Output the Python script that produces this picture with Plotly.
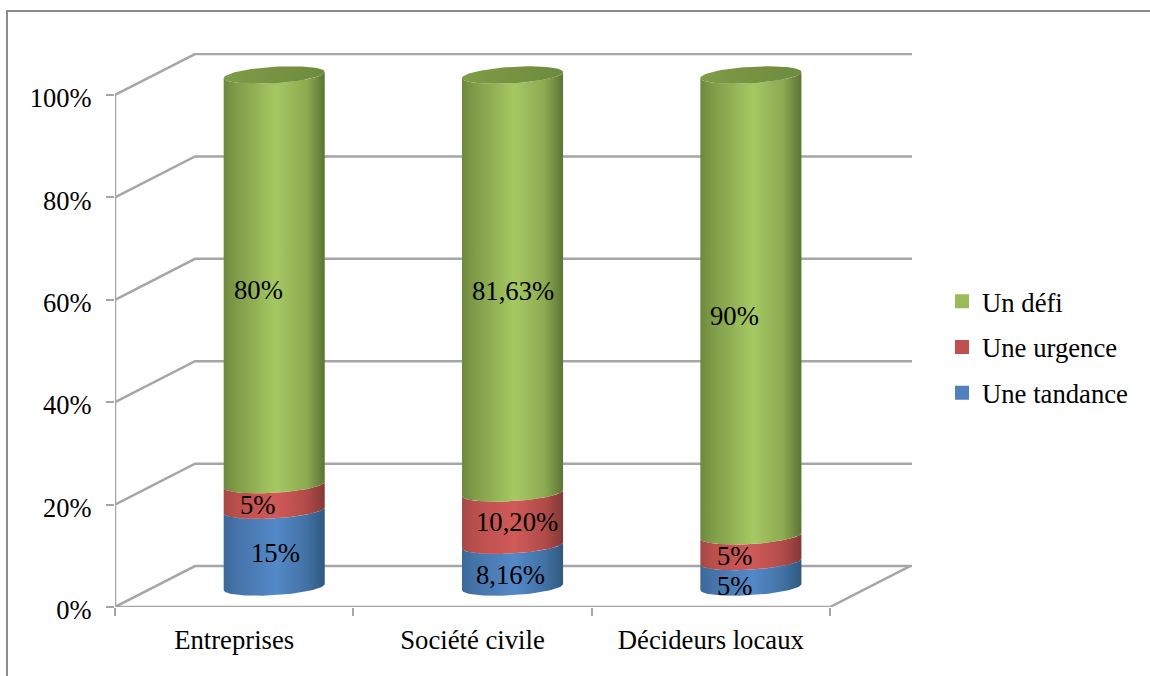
import numpy as np
import plotly.graph_objects as go

# Survey shares per respondent group (%)
categories = ["Entreprises", "Société civile", "Décideurs locaux"]
une_tandance = [15, 8.16, 5]
une_urgence = [5, 10.20, 5]
un_defi = [80, 81.63, 90]
value_labels = {
    "tandance": ["15%", "8,16%", "5%"],
    "urgence": ["5%", "10,20%", "5%"],
    "defi": ["80%", "81,63%", "90%"],
}
tick_values = [0, 20, 40, 60, 80, 100]
tick_labels = ["0%", "20%", "40%", "60%", "80%", "100%"]

# Pseudo-3D box and cylinder proportions, in axis units
DEPTH_X, DEPTH_Y = 0.3357, 8.0
X_END = 2.844
Y_END = 108.2
RADIUS_X = 0.212
RADIUS_Y = 1.6
TILT = 0.59
BAR_DX, BAR_DY = 0.168, 3.9

FONT = "Liberation Serif"
TEXT_SIZE = 26.7
GRID = "#a6a6a6"

GREEN = [[0, "#6d883e"], [0.12, "#7f9c48"], [0.52, "#a6c863"], [0.82, "#8caa50"], [1, "#5c7434"]]
RED = [[0, "#a44846"], [0.12, "#b94f4c"], [0.52, "#d05a58"], [0.82, "#b04b49"], [1, "#843836"]]
BLUE = [[0, "#3a6899"], [0.12, "#4573a8"], [0.52, "#5489c8"], [0.82, "#4271a4"], [1, "#2e5981"]]
CAP = [[0, "#7f9c47"], [1, "#6e8a3d"]]


def ellipse(cx, level, t):
    """Points on the tilted ellipse at a stack level; the left side sits lower."""
    return cx + RADIUS_X * np.cos(t), level + RADIUS_Y * np.sin(t) + TILT * np.cos(t)


fig = go.Figure()

# Walls: one bent gridline per tick
for v in tick_values:
    fig.add_trace(go.Scatter(
        x=[-0.5, -0.5 + DEPTH_X, X_END], y=[v, v + DEPTH_Y, v + DEPTH_Y],
        mode="lines", line=dict(color=GRID, width=2.5), showlegend=False,
        hoverinfo="skip", cliponaxis=False,
    ))

# Value axis and front floor edge
fig.add_trace(go.Scatter(
    x=[-0.5, -0.5], y=[0, 100], mode="lines",
    line=dict(color=GRID, width=2.5), showlegend=False, hoverinfo="skip", cliponaxis=False,
))
fig.add_trace(go.Scatter(
    x=[-0.5, 2.5, 2.5 + DEPTH_X], y=[0, 0, DEPTH_Y], mode="lines",
    line=dict(color=GRID, width=2.5), showlegend=False, hoverinfo="skip", cliponaxis=False,
))

# Stacked cylinders
series = [
    ("Une tandance", une_tandance, BLUE),
    ("Une urgence", une_urgence, RED),
    ("Un défi", un_defi, GREEN),
]
lower_half = np.linspace(np.pi, 2 * np.pi, 50)
full_turn = np.linspace(0, 2 * np.pi, 90)
for i in range(len(categories)):
    cx = i + BAR_DX
    base = BAR_DY
    for name, values, scale in series:
        top = base + values[i]
        x0, y0 = ellipse(cx, base, lower_half)
        x1, y1 = ellipse(cx, top, lower_half[::-1])
        fig.add_trace(go.Scatter(
            x=np.concatenate([x0, x1]), y=np.concatenate([y0, y1]),
            mode="lines", line=dict(width=0), fill="toself",
            fillgradient=dict(type="horizontal", colorscale=scale),
            showlegend=False, name=name, hoverinfo="skip",
        ))
        base = top
    # Top cap of the stack
    xc, yc = ellipse(cx, base, full_turn)
    fig.add_trace(go.Scatter(
        x=xc, y=yc, mode="lines", line=dict(width=0), fill="toself",
        fillgradient=dict(type="horizontal", colorscale=CAP),
        showlegend=False, hoverinfo="skip",
    ))

# Legend keys, top to bottom
for name, color in [("Un défi", "#9bbb59"), ("Une urgence", "#c0504d"), ("Une tandance", "#4f81bd")]:
    fig.add_trace(go.Scatter(
        x=[None], y=[None], mode="markers", name=name, legendgroup=name,
        marker=dict(symbol="square", size=14, color=color),
    ))

# Value labels, nudged off the segment centres
nudges = {
    "tandance": [(1, -4), (-2, -9), (-16, -12)],
    "urgence": [(-16, -8), (4, -3), (-16, -7)],
    "defi": [(-16, -10), (0, -7), (-16, -11)],
}
annotations = []
for i in range(len(categories)):
    cx = i + BAR_DX
    base = BAR_DY
    for key, values in [("tandance", une_tandance), ("urgence", une_urgence), ("defi", un_defi)]:
        dx, dy = nudges[key][i]
        annotations.append(dict(
            x=cx, y=base + values[i] / 2, text=value_labels[key][i], showarrow=False,
            xshift=dx, yshift=dy, font=dict(family=FONT, size=TEXT_SIZE, color="black"),
        ))
        base += values[i]

fig.update_layout(
    width=1150, height=676, autosize=False,
    margin=dict(l=0, r=0, t=0, b=0),
    paper_bgcolor="white", plot_bgcolor="white",
    font=dict(family=FONT, size=TEXT_SIZE, color="black"),
    annotations=annotations,
    shapes=[dict(
        type="path", xref="paper", yref="paper", layer="below",
        path=f"M {7/1150} 0 L {7/1150} {1-11/676} L 1 {1-11/676}",
        line=dict(color="#8c8c8c", width=2),
    )],
    legend=dict(
        x=942 / 1150, xanchor="left", y=1 - 277.5 / 676, yanchor="top",
        font=dict(family=FONT, size=TEXT_SIZE), tracegroupgap=8,
        bgcolor="rgba(0,0,0,0)", borderwidth=0,
    ),
    xaxis=dict(
        domain=[115 / 1150, 912 / 1150], range=[-0.5, X_END], automargin=False,
        tickvals=[0, 1, 2], ticktext=categories, ticks="", showgrid=False,
        zeroline=False, showline=False, ticklabelstandoff=14,
        minor=dict(tickvals=[-0.5, 0.5, 1.5, 2.5], ticks="outside", ticklen=8,
                   tickwidth=2, tickcolor=GRID, showgrid=False),
    ),
    yaxis=dict(
        domain=[(676 - 607) / 676, (676 - 53) / 676], range=[0, Y_END], automargin=False,
        tickvals=tick_values, ticktext=tick_labels, ticks="outside", ticklen=8,
        tickwidth=2, tickcolor=GRID, showgrid=False, zeroline=False, showline=False,
        tickfont=dict(family=FONT, size=26.5),
        ticklabelstandoff=9, ticklabelshift=3,
    ),
)

fig.write_html("out.html")
